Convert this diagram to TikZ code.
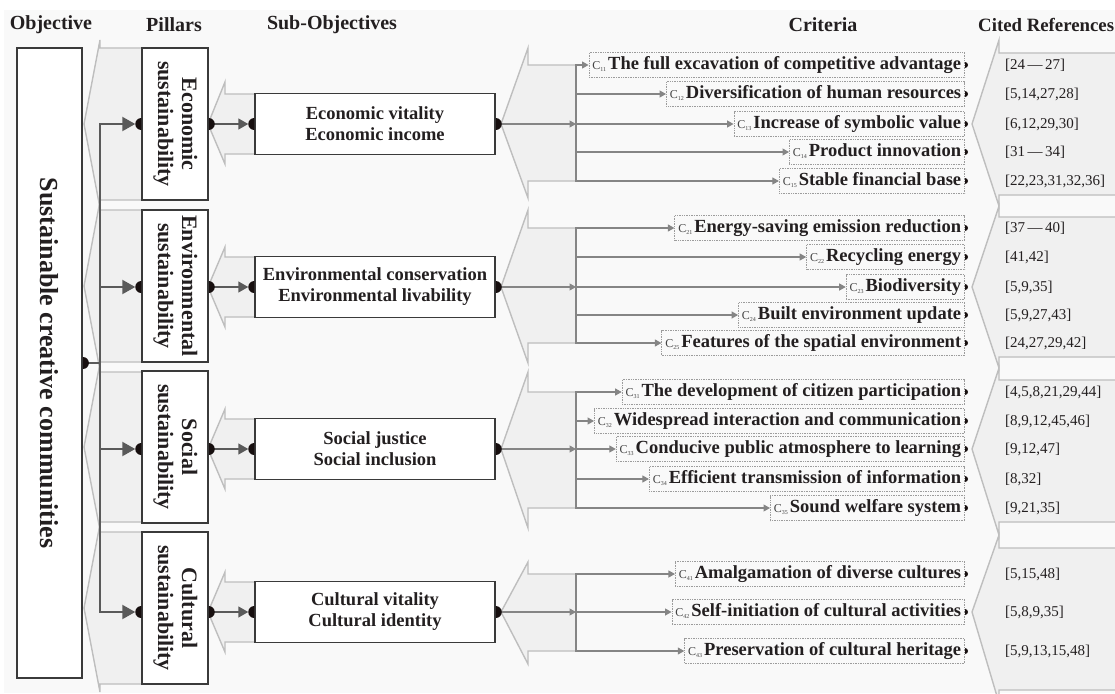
\documentclass[tikz,border=0pt]{standalone}
\usepackage{fontspec}
\setmainfont{Liberation Serif}
\usepackage{graphicx}
\usetikzlibrary{arrows.meta}

\definecolor{bgc}{HTML}{F9F9F9}
\definecolor{chevfill}{HTML}{F0F0F0}
\definecolor{chevline}{HTML}{BEBEBE}
\definecolor{boxline}{HTML}{3A3A3A}
\definecolor{connc}{HTML}{5A5A5A}
\definecolor{critc}{HTML}{858585}
\definecolor{dotc}{HTML}{170F0F}
\definecolor{textc}{HTML}{231F20}
\definecolor{dottedc}{HTML}{9C9C9C}
\definecolor{labelc}{HTML}{444444}

% half dots sitting on a box edge
\newcommand\leftdot[2][6pt]{\fill[dotc] (#2) ++(0pt,#1) arc[start angle=90,end angle=270,radius=#1] -- cycle;}
\newcommand\rightdot[2][6pt]{\fill[dotc] (#2) ++(0pt,#1) arc[start angle=90,end angle=-90,radius=#1] -- cycle;}
% criterion label C with subscript
\newcommand\clabel[1]{{\mdseries\fontsize{12}{12}\selectfont\color{labelc}C\raisebox{-2pt}{\fontsize{6}{6}\selectfont #1}}\hspace{2pt}}

\tikzset{
  every node/.append style={text=textc},
  box/.style={draw=boxline, line width=1.5pt, fill=white, inner sep=0pt},
  pillar/.style={box, minimum width=66pt, minimum height=152pt, font=\bfseries\fontsize{22}{24}\selectfont},
  subobj/.style={box, minimum width=240pt, minimum height=61pt, align=center, font=\bfseries\fontsize{18.5}{21}\selectfont},
  crit/.style={draw=dottedc, densely dotted, line width=0.7pt, anchor=east, minimum height=25pt,
    inner xsep=3.5pt, inner ysep=0pt, text height=13pt, text depth=4pt, font=\bfseries\fontsize{18.5}{20}\selectfont},
  cref/.style={anchor=west, inner sep=0pt, font=\fontsize{15}{18}\selectfont},
  head/.style={font=\bfseries\fontsize{20}{24}\selectfont},
  chevron/.style={fill=chevfill, draw=chevline, line width=1.4pt},
  busline/.style={draw=connc, line width=2.2pt},
  bigtip/.style={-{Triangle[length=13pt,width=14pt]}},
  midline/.style={draw=connc, line width=1.5pt, -{Triangle[length=10pt,width=11pt]}},
  critline/.style={draw=critc, line width=1.1pt, -{Triangle[length=6.5pt,width=7pt]}},
  critbus/.style={draw=critc, line width=1.6pt, line cap=rect}
}

\begin{document}
\begin{tikzpicture}[x=1pt,y=-1pt]
\useasboundingbox (0,0) rectangle (1115,693);
\fill[white] (0,0) rectangle (1115,693);
\fill[bgc] (4,10) rectangle (1115,693);

% chevrons: tip x/tip y/notch x/head top/shaft top/shaft bottom/head bottom/right x
\foreach \tx/\ty/\nx/\ht/\st/\sb/\hb/\rx in {
  84/124/100/40/48/200/208/142, 84/286/100/201/210/362/370/142,
  84/447/100/363/372/522/530/142, 84/608/100/524/532/684/692/142,
  208/124/225/82/94/154/164/255, 208/287/225/247/257/317/327/255,
  208/449/225/409/419/479/489/255, 208/612/225/572/582/642/652/255,
  501/124/528/48/65/181/198/576, 501/287/528/210/228/343/363/576,
  501/449/528/372/392/508/528/576, 501/612/528/562/574/651/664/576,
  972/124/999/40/53/195/206/1130, 972/287/999/206/217/357/368/1130,
  972/449/999/368/380/522/535/1130, 972/612/999/535/548/690/703/1130}
  \filldraw[chevron] (\rx,\st) -- (\nx,\st) -- (\nx,\ht) -- (\tx,\ty) -- (\nx,\hb) -- (\nx,\sb) -- (\rx,\sb) -- cycle;

% headers
\node[head] (hobj) at (51,25) {Objective};
\node[head] (hpil) at (174,25) {Pillars};
\node[head] (hsub) at (332,25) {Sub-Objectives};
\node[head] (hcrit) at (823,25) {Criteria};
\node[head, anchor=west, inner sep=0pt, font=\bfseries\fontsize{18.8}{24}\selectfont] (href) at (978,25) {Cited References};

% objective and pillars
\node[box, line width=1.8pt, minimum width=65pt, minimum height=630pt, font=\bfseries\fontsize{26}{30}\selectfont] (obj) at (49.5,363) {\rotatebox{-90}{Sustainable creative communities}};
\node[pillar] (pecon) at (175,124) {\rotatebox{-90}{\begin{tabular}{@{}c@{}}Economic\\sustainability\end{tabular}}};
\node[pillar] (penv) at (175,286) {\rotatebox{-90}{\begin{tabular}{@{}c@{}}Environmental\\sustainability\end{tabular}}};
\node[pillar] (psoc) at (175,447) {\rotatebox{-90}{\begin{tabular}{@{}c@{}}Social\\sustainability\end{tabular}}};
\node[pillar] (pcult) at (175,608) {\rotatebox{-90}{\begin{tabular}{@{}c@{}}Cultural\\sustainability\end{tabular}}};

% sub-objectives
\node[subobj] (secon) at (375,124) {Economic vitality\\Economic income};
\node[subobj] (senv) at (375,287) {Environmental conservation\\Environmental livability};
\node[subobj] (ssoc) at (375,449) {Social justice\\Social inclusion};
\node[subobj] (scult) at (375,612) {Cultural vitality\\Cultural identity};

\coordinate (bus) at (100,0);
\coordinate (cbus) at (576,0);

% criteria and cited references
\foreach \id/\yy/\txt/\rf in {
  11/65/{The full excavation of competitive advantage}/{[24\,---\,27]},
  12/94/{Diversification of human resources}/{[5,14,27,28]},
  13/124/{Increase of symbolic value}/{[6,12,29,30]},
  14/152/{Product innovation}/{[31\,---\,34]},
  15/181/{Stable financial base}/{[22,23,31,32,36]},
  21/228/{Energy-saving emission reduction}/{[37\,---\,40]},
  22/257/{Recycling energy}/{[41,42]},
  23/287/{Biodiversity}/{[5,9,35]},
  24/315/{Built environment update}/{[5,9,27,43]},
  25/343/{Features of the spatial environment}/{[24,27,29,42]},
  31/392/{The development of citizen participation}/{[4,5,8,21,29,44]},
  32/421/{Widespread interaction and communication}/{[8,9,12,45,46]},
  33/449/{Conducive public atmosphere to learning}/{[9,12,47]},
  34/479/{Efficient transmission of information}/{[8,32]},
  35/508/{Sound welfare system}/{[9,21,35]},
  41/574/{Amalgamation of diverse cultures}/{[5,15,48]},
  42/612/{Self-initiation of cultural activities}/{[5,8,9,35]},
  43/651/{Preservation of cultural heritage}/{[5,9,13,15,48]}}
{
  \node[crit] (c\id) at (965,\yy) {\clabel{\id}\txt};
  \node[cref] (r\id) at (1005,\yy) {\rf};
  \draw[critline] (cbus |- c\id.west) -- (c\id.west);
  \rightdot[3pt]{c\id.east}
}

% criteria buses
\draw[critbus] (cbus |- c11.west) -- (cbus |- c15.west);
\draw[critbus] (cbus |- c21.west) -- (cbus |- c25.west);
\draw[critbus] (cbus |- c31.west) -- (cbus |- c35.west);
\draw[critbus] (cbus |- c41.west) -- (cbus |- c43.west);

% objective to pillars
\draw[draw=connc, line width=1.5pt] (obj.east) -- (bus |- obj.east);
\draw[busline, {Triangle[length=13pt,width=14pt]}-{Triangle[length=13pt,width=14pt]}, shorten <=6pt, shorten >=6pt]
  (pecon.west |- secon.west) -- (bus |- secon.west) -- (bus |- scult.west) -- (pcult.west |- scult.west);
\draw[busline, bigtip, shorten >=6pt] (bus |- senv.west) -- (penv.west |- senv.west);
\draw[busline, bigtip, shorten >=6pt] (bus |- ssoc.west) -- (psoc.west |- ssoc.west);
\rightdot{obj.east}

% pillars to sub-objectives to criteria
\foreach \p/\s in {pecon/secon, penv/senv, psoc/ssoc, pcult/scult}
{
  \leftdot{\p.west |- \s.west}
  \draw[midline, shorten <=5pt, shorten >=6pt] (\p.east |- \s.west) -- (\s.west);
  \rightdot{\p.east |- \s.west}
  \leftdot{\s.west}
  \draw[critline, shorten <=5pt] (\s.east) -- (cbus |- \s.east);
  \rightdot{\s.east}
}
\end{tikzpicture}
\end{document}
